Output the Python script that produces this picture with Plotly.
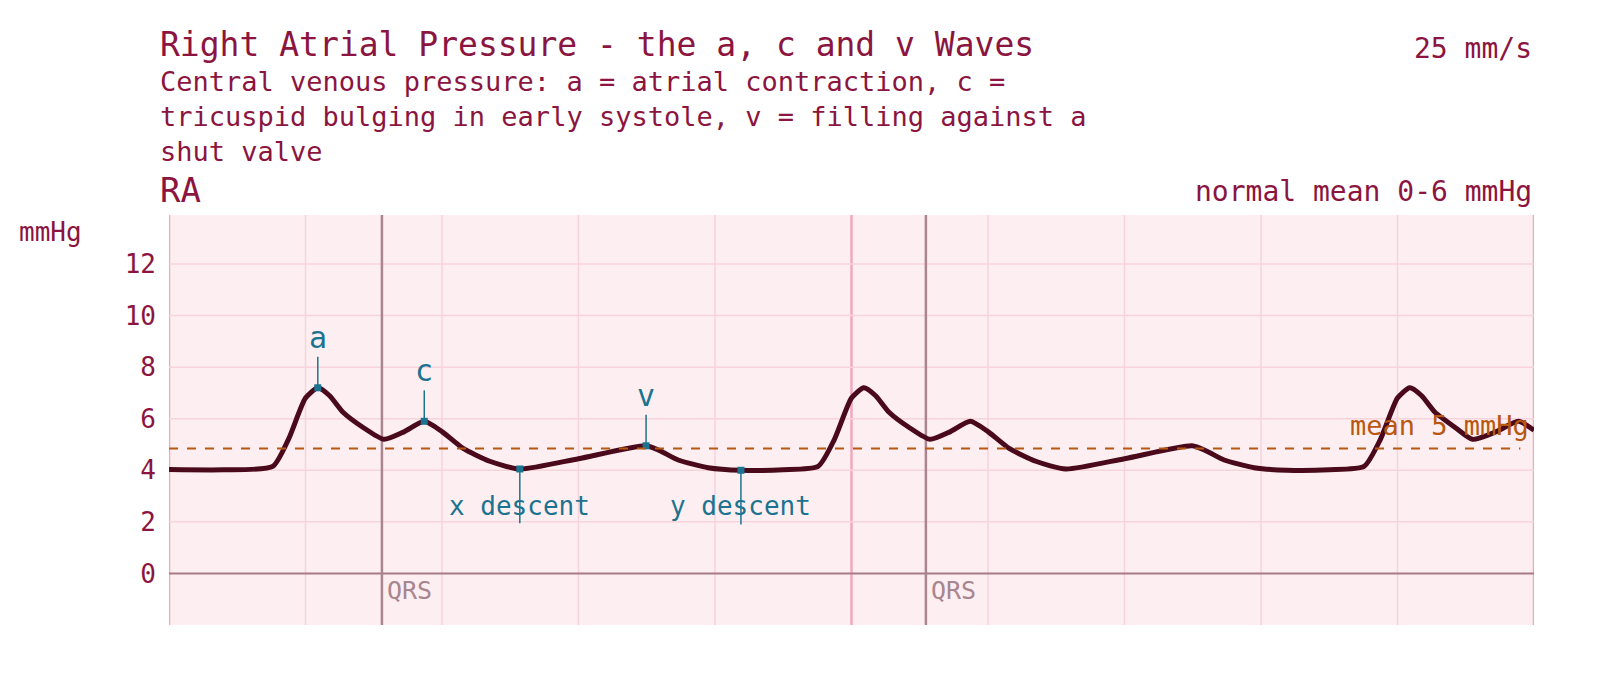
import plotly.graph_objects as go

t = [0.0, 0.08, 0.152, 0.175, 0.20, 0.218, 0.235, 0.255, 0.285, 0.315, 0.345, 0.374, 0.40, 0.431, 0.47, 0.514,
     0.60, 0.699, 0.72, 0.746, 0.79, 0.838, 0.90, 0.951,
     0.975, 1.00, 1.018, 1.035, 1.055, 1.085, 1.115, 1.145, 1.174, 1.20, 1.231, 1.27, 1.314,
     1.40, 1.499, 1.52, 1.546, 1.59, 1.638, 1.70, 1.751,
     1.775, 1.80, 1.818, 1.835, 1.855, 1.885, 1.91, 1.945, 1.977, 2.0]
p = [4.03, 4.02, 4.15, 5.2, 6.8, 7.2, 6.9, 6.25, 5.65, 5.2, 5.5, 5.9, 5.5, 4.85, 4.35, 4.05,
     4.45, 4.95, 4.75, 4.4, 4.1, 4.0, 4.02, 4.15,
     5.2, 6.8, 7.2, 6.9, 6.25, 5.65, 5.2, 5.5, 5.9, 5.5, 4.85, 4.35, 4.05,
     4.45, 4.95, 4.75, 4.4, 4.1, 4.0, 4.02, 4.15,
     5.2, 6.8, 7.2, 6.9, 6.25, 5.65, 5.2, 5.5, 5.9, 5.55]
qrs_t = [0.312, 1.109]
mean_val = 4.84
marks = [("a", 0.218, 7.2, "up"), ("c", 0.374, 5.9, "up"), ("v", 0.699, 4.95, "up"),
         ("x descent", 0.514, 4.05, "down"), ("y descent", 0.838, 4.0, "down")]
yticks = [0, 2, 4, 6, 8, 10, 12]

TITLE = "#8b1540"; TEAL = "#1b7390"; ORANGE = "#b85810"; LINE = "#4a0a1c"; QRSC = "#a8858f"
FONT = "DejaVu Sans Mono"

fig = go.Figure()
shapes = []
for i in range(11):
    x = i * 0.2
    major = i % 5 == 0
    shapes.append(dict(type="line", xref="x", yref="paper", x0=x, x1=x, y0=0, y1=1,
                       line=dict(color="#f0a8bc" if major else "#f7d3dc", width=2.5 if major else 1.5), layer="below"))
for y in yticks[1:]:
    shapes.append(dict(type="line", xref="paper", yref="y", x0=0, x1=1, y0=y, y1=y,
                       line=dict(color="#f7d3dc", width=1.5), layer="below"))
shapes.append(dict(type="line", xref="paper", yref="y", x0=0, x1=1, y0=0, y1=0,
                   line=dict(color="#a87a88", width=2), layer="below"))
for q in qrs_t:
    shapes.append(dict(type="line", xref="x", yref="paper", x0=q, x1=q, y0=0, y1=1,
                       line=dict(color=QRSC, width=2.5), layer="below"))
shapes.append(dict(type="line", xref="paper", yref="y", x0=0, x1=0.99, y0=mean_val, y1=mean_val,
                   line=dict(color=ORANGE, width=2, dash="dash")))

fig.add_trace(go.Scatter(x=t, y=p, mode="lines", line=dict(color=LINE, width=5, shape="spline", smoothing=0.6),
                         hoverinfo="skip", showlegend=False))

annotations = []
for name, x, y, d in marks:
    if d == "up":
        shapes.append(dict(type="line", x0=x, x1=x, y0=y, y1=y + 1.2, line=dict(color=TEAL, width=1.5)))
        annotations.append(dict(x=x, y=y + 1.2, text=name, showarrow=False, yanchor="bottom",
                                font=dict(family=FONT, size=30, color=TEAL)))
    else:
        shapes.append(dict(type="line", x0=x, x1=x, y0=y, y1=y - 2.1, line=dict(color=TEAL, width=1.5)))
        annotations.append(dict(x=x, y=2.6, text=name, showarrow=False,
                                font=dict(family=FONT, size=26, color=TEAL)))
    fig.add_trace(go.Scatter(x=[x], y=[y], mode="markers", marker=dict(symbol="square", size=7, color=TEAL),
                             hoverinfo="skip", showlegend=False))
for q in qrs_t:
    annotations.append(dict(x=q, y=0, text="QRS", showarrow=False, xanchor="left", yanchor="top", xshift=3, yshift=-1,
                            font=dict(family=FONT, size=25, color=QRSC)))
annotations.append(dict(x=1.995, y=mean_val + 0.2, text="mean 5 mmHg", showarrow=False, xanchor="right", yanchor="bottom",
                        font=dict(family=FONT, size=27, color=ORANGE)))
annotations.append(dict(xref="paper", yref="paper", x=-0.111, y=1.0, text="mmHg", showarrow=False,
                        xanchor="left", yanchor="top", font=dict(family=FONT, size=26, color=TITLE)))
subtitle = ("Central venous pressure: a = atrial contraction, c =<br>"
            "tricuspid bulging in early systole, v = filling against a<br>shut valve")
hdr = [("Right Atrial Pressure - the a, c and v Waves", -0.008, 36, "left", 33),
       ("25 mm/s", 1, 40, "right", 28),
       (subtitle, -0.008, 108, "left", 27),
       ("RA", -0.008, 182, "left", 34),
       ("normal mean 0-6 mmHg", 1, 184, "right", 28)]
for txt, xx, ypx, anc, sz in hdr:
    annotations.append(dict(xref="paper", yref="paper", x=xx, y=1 + (207 - ypx) / 410, text=txt, showarrow=False,
                            xanchor=anc, yanchor="middle", align="left",
                            font=dict(family=FONT, size=sz, color=TITLE)))

fig.update_layout(width=1608, height=700, margin=dict(l=161, r=82, t=207, b=83),
                  paper_bgcolor="white", plot_bgcolor="#fdeff1",
                  shapes=shapes, annotations=annotations,
                  xaxis=dict(range=[0, 2], showgrid=False, zeroline=False, showticklabels=False, ticks=""),
                  yaxis=dict(range=[-2, 13.9], showgrid=False, zeroline=False, tickvals=yticks,
                             tickfont=dict(family=FONT, size=26, color=TITLE), ticks="", ticklabelstandoff=12))
fig.write_html("out.html")
